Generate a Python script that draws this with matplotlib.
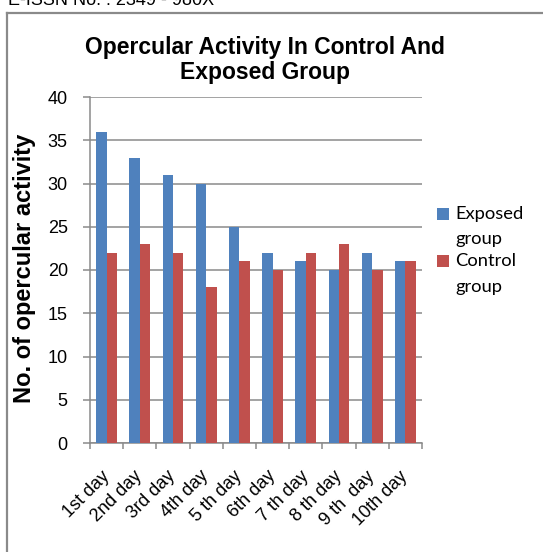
import matplotlib.pyplot as plt
import numpy as np
from matplotlib.lines import Line2D
from matplotlib.patches import Rectangle
from matplotlib.container import BarContainer
from matplotlib.legend_handler import HandlerPatch, update_from_first_child

days = ["1st day", "2nd day", "3rd day", "4th day", "5 th day", "6th day",
        "7 th day", "8 th day", "9 th  day", "10th day"]
exposed = [36, 33, 31, 30, 25, 22, 21, 20, 22, 21]
control = [22, 23, 22, 18, 21, 20, 22, 23, 20, 21]

plt.rcParams["font.family"] = ["Liberation Sans", "DejaVu Sans"]

W, H = 543, 552
fig = plt.figure(figsize=(W / 100, H / 100), dpi=100)
ax = fig.add_axes([90 / W, 1 - 443 / H, (422 - 90) / W, (443 - 97) / H])

x = np.arange(len(days))
bw = 0.315
ax.bar(x - bw / 2, exposed, bw, color="#4F81BD", label="Exposed\ngroup", zorder=3)
ax.bar(x + bw / 2, control, bw, color="#C0504D", label="Control\ngroup", zorder=3)

ax.set_xlim(-0.5, len(days) - 0.5)
ax.set_ylim(0, 40)
ax.set_yticks(range(0, 41, 5))
ax.yaxis.grid(True, color="#8a8a8a", linewidth=1.1, zorder=0)
ax.set_axisbelow(True)

ax.set_xticks(np.arange(len(days) + 1) - 0.5)
ax.set_xticklabels([])
ax.set_xticks(x, minor=True)
ax.set_xticklabels(days, minor=True, rotation=45, ha="right", va="center",
                   rotation_mode="anchor", fontsize=13)
ax.tick_params(axis="x", which="major", length=4.5, color="#8a8a8a", width=1.1)
ax.tick_params(axis="x", which="minor", length=0, pad=22)
ax.tick_params(axis="y", length=5, color="#8a8a8a", width=1.1, labelsize=13, pad=11)

for s in ["top", "right"]:
    ax.spines[s].set_visible(False)
for s in ["left", "bottom"]:
    ax.spines[s].set_color("#8a8a8a")
    ax.spines[s].set_linewidth(1.1)

fig.text(265 / W, 1 - 60 / H, "Opercular Activity In Control And\nExposed Group",
         ha="center", va="center", fontsize=16.5, fontweight="bold", linespacing=1.15)
fig.text(25 / W, 1 - 268 / H, "No. of opercular activity", rotation=90,
         ha="center", va="center", fontsize=17, fontweight="bold")


# square marker drawn beside the first line of a two-line label
def top_square(legend, orig_handle, xdescent, ydescent, width, height, fontsize):
    s = 0.65 * fontsize
    return Rectangle((-xdescent, 0.74 * fontsize), s, s)


ax.legend(loc="upper left", bbox_to_anchor=(437 / W, 1 - 206 / H),
          bbox_transform=fig.transFigure, frameon=False,
          prop={"family": "Lato", "size": 13.2}, handlelength=0.65,
          handleheight=0.6, handletextpad=0.33, labelspacing=0.33,
          borderpad=0.0, borderaxespad=0.0,
          handler_map={BarContainer: HandlerPatch(patch_func=top_square,
                                                  update_func=update_from_first_child)})
for t in ax.get_legend().get_texts():
    t.set_linespacing(1.72)

fig.text(8 / W, 1 - 5 / H, "E-ISSN No. : 2349 - 980X", fontsize=13,
         va="baseline", ha="left")

frame = dict(color="#8a8a8a", linewidth=1.6, transform=fig.transFigure)
fig.add_artist(Line2D([6.5 / W, 6.5 / W], [0, 1 - 13 / H], **frame))
fig.add_artist(Line2D([6.5 / W, 1], [1 - 13 / H, 1 - 13 / H], **frame))

fig.savefig("out.png", dpi=100)
